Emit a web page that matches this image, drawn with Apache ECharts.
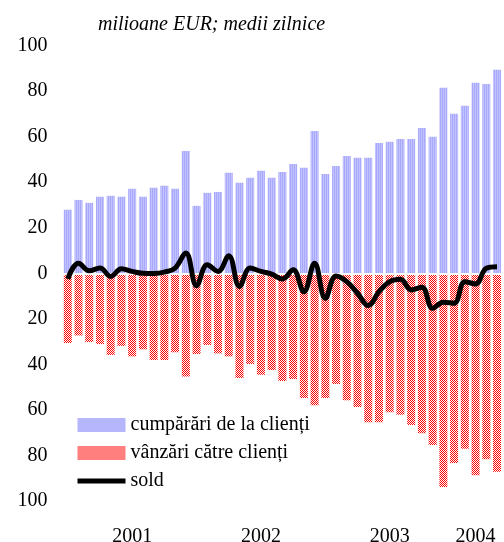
<!DOCTYPE html>
<html>
<head>
<meta charset="utf-8">
<script src="https://cdn.jsdelivr.net/npm/echarts@6/dist/echarts.min.js"></script>
<style>
  html, body { margin: 0; padding: 0; background: #fff; }
  #chart { width: 504px; height: 542px; }
</style>
</head>
<body>
<div id="chart"></div>
<script>
// luni ian 2001 - mai 2004
const categories = [
  '2001-01','2001-02','2001-03','2001-04','2001-05','2001-06','2001-07','2001-08','2001-09','2001-10','2001-11','2001-12',
  '2002-01','2002-02','2002-03','2002-04','2002-05','2002-06','2002-07','2002-08','2002-09','2002-10','2002-11','2002-12',
  '2003-01','2003-02','2003-03','2003-04','2003-05','2003-06','2003-07','2003-08','2003-09','2003-10','2003-11','2003-12',
  '2004-01','2004-02','2004-03','2004-04','2004-05'
]

// cumpărări de la clienți (mil. EUR)
const cumparari = [
  27.9, 32.2, 30.9, 33.6, 34.0, 33.6, 37.1, 33.6, 37.5, 38.4, 37.1, 53.7,
  29.6, 35.3, 35.7, 44.1, 39.7, 41.9, 45.0, 41.9, 44.5, 48.0, 46.3, 62.5,
  43.6, 47.1, 51.5, 50.7, 50.7, 57.2, 57.7, 59.0, 59.0, 63.8, 59.9, 81.4,
  70.0, 73.5, 83.6, 83.1, 89.3
]

// vânzări către clienți (afișate în jos)
const vanzari = [
  -30.6, -27.3, -30.2, -31.1, -35.9, -31.9, -36.5, -33.4, -38.1, -38.1, -34.7, -45.3,
  -35.5, -31.5, -35.2, -36.5, -46.0, -39.8, -44.6, -42.5, -47.3, -46.4, -54.8, -58.0,
  -54.8, -48.6, -55.8, -58.7, -65.4, -65.4, -61.0, -62.1, -66.6, -70.3, -75.4, -93.9,
  -83.3, -77.1, -88.7, -81.7, -87.2
]

// sold
const sold = [
  -2.5, 4.4, 1.1, 2.3, -1.4, 2.0, 0.8, 0.0, -0.1, 0.5, 2.3, 8.9,
  -5.5, 3.7, 0.8, 7.7, -5.8, 2.3, 0.8, -0.4, -2.5, 1.5, -8.1, 4.4,
  -11.0, -1.2, -3.7, -8.8, -14.2, -8.1, -3.7, -2.6, -7.3, -6.1, -15.4, -12.7,
  -13.2, -3.7, -4.7, 2.2, 2.9
]

// etichete ani pe axa x (index lună la care apare anul)
const yearTicks = [6, 18, 30, 38]

const FONT = 'Liberation Serif'

// modele de umplere (ca în Excel)
function makePattern(w, h, draw) {
  const c = document.createElement('canvas')
  c.width = w
  c.height = h
  draw(c.getContext('2d'))
  return { image: c, repeat: 'repeat' }
}

const bluePattern = makePattern(2, 1, ctx => {
  ctx.fillStyle = '#a9a9fb'
  ctx.fillRect(0, 0, 1, 1)
  ctx.fillStyle = '#c2c2ff'
  ctx.fillRect(1, 0, 1, 1)
})

const redPattern = makePattern(2, 2, ctx => {
  ctx.fillStyle = '#ffffff'
  ctx.fillRect(0, 0, 2, 2)
  ctx.fillStyle = '#ff0000'
  ctx.fillRect(0, 0, 1, 1)
  ctx.fillRect(1, 1, 1, 1)
})

const myChart = echarts.init(document.getElementById('chart'), null, { renderer: 'canvas' })

const option = {
  animation: false,
  backgroundColor: '#fff',
  textStyle: { fontFamily: FONT },
  title: {
    text: 'milioane EUR; medii zilnice',
    left: 93,
    top: 10,
    textStyle: {
      fontFamily: FONT,
      fontStyle: 'italic',
      fontWeight: 'normal',
      fontSize: 20,
      color: '#000'
    }
  },
  legend: {
    orient: 'vertical',
    left: 70,
    top: 410,
    itemWidth: 48,
    itemHeight: 14,
    itemGap: 8,
    textStyle: { fontFamily: FONT, fontSize: 20, color: '#000', lineHeight: 20 },
    data: [
      { name: 'cumpărări de la clienți', icon: 'rect', itemStyle: { color: bluePattern } },
      { name: 'vânzări către clienți', icon: 'rect', itemStyle: { color: redPattern } },
      { name: 'sold', itemStyle: { opacity: 0 }, lineStyle: { width: 5, color: '#000' } }
    ]
  },
  grid: {
    left: 62.4,
    right: 1.6,
    top: 45.5,
    bottom: 41,
    outerBoundsMode: 'none'
  },
  xAxis: {
    type: 'category',
    data: categories,
    axisLine: { show: false, onZero: false },
    axisTick: { show: false },
    axisLabel: {
      interval: (index) => yearTicks.includes(index),
      formatter: (value) => value.slice(0, 4),
      fontFamily: FONT,
      fontSize: 20,
      color: '#000',
      margin: 26
    },
    splitLine: { show: false }
  },
  yAxis: {
    type: 'value',
    min: -100,
    max: 100,
    interval: 20,
    axisLine: { show: false },
    axisTick: { show: false },
    splitLine: { show: false },
    axisLabel: {
      formatter: (v) => Math.abs(v),
      fontFamily: FONT,
      fontSize: 20,
      color: '#000',
      margin: 15
    }
  },
  series: [
    {
      name: 'cumpărări de la clienți',
      type: 'bar',
      data: cumparari,
      barWidth: 8,
      barGap: '-100%',
      itemStyle: { color: bluePattern }
    },
    {
      name: 'vânzări către clienți',
      type: 'bar',
      data: vanzari,
      barWidth: 8,
      barGap: '-100%',
      itemStyle: { color: redPattern },
      markLine: {
        silent: true,
        symbol: 'none',
        label: { show: false },
        lineStyle: { color: '#fff', width: 2, type: 'solid' },
        data: [{ yAxis: 0 }]
      }
    },
    {
      name: 'sold',
      type: 'line',
      data: sold,
      smooth: 0.4,
      symbol: 'none',
      z: 5,
      lineStyle: { color: '#000', width: 5 },
      itemStyle: { color: '#000' }
    }
  ]
}

myChart.setOption(option)
</script>
</body>
</html>
